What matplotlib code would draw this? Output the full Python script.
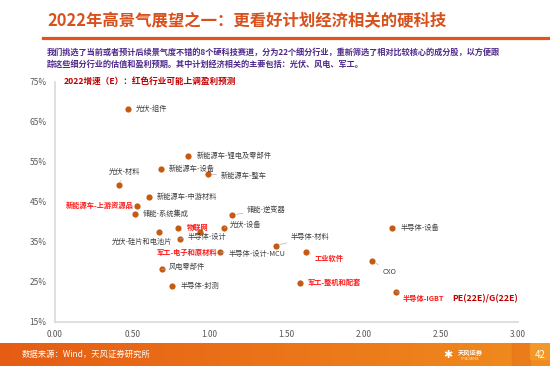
import matplotlib
matplotlib.use("Agg")
import matplotlib.pyplot as plt
import numpy as np
from matplotlib.patches import Rectangle

plt.rcParams['font.family'] = ['Noto Sans CJK SC', 'DejaVu Sans']

# ---------------- data ----------------
names = ["光伏-组件", "新能源车-锂电及零部件", "新能源车-设备", "新能源车-整车", "光伏-材料",
         "新能源车-中游材料", "新能源车-上游资源品", "储能-系统集成", "储能-逆变器", "物联网",
         "光伏-设备", "光伏-硅片和电池片", "半导体-设计", "军工-电子和原材料", "半导体-设计-MCU",
         "半导体-材料", "工业软件", "CXO", "半导体-设备", "军工-整机和配套",
         "半导体-IGBT", "风电零部件", "半导体-封测"]
pe_g = [0.47, 0.865, 0.686, 0.989, 0.413,
        0.609, 0.531, 0.52, 1.148, 0.80,
        1.095, 0.677, 0.809, 0.942, 1.071,
        1.43, 1.624, 2.056, 2.185, 1.59,
        2.21, 0.692, 0.761]
growth = [68.1, 56.4, 53.1, 51.9, 49.1,
          46.1, 44.0, 41.85, 41.7, 38.5,
          38.5, 37.5, 35.7, 37.35, 32.4,
          34.0, 32.35, 30.2, 38.4, 24.8,
          22.5, 28.1, 23.85]
highlight = [False, False, False, False, False,
             False, True, False, False, True,
             False, False, False, True, False,
             False, True, False, False, True,
             True, False, False]
x_ticks = [0.0, 0.5, 1.0, 1.5, 2.0, 2.5, 3.0]
y_ticks = [15, 25, 35, 45, 55, 65, 75]

# label placement (offset in pixels, alignment, leader line)
label_style = [(8, 0, 'left', False), (8, 0, 'left', False), (8, 0, 'left', False), (13, -2, 'left', True),
               (6, 13, 'center', True), (8, 0, 'left', False), (-3, 0, 'right', False), (8, 0, 'left', False),
               (15, 5, 'left', True), (8, 0, 'left', False), (6, 3, 'left', True), (-17, -10, 'center', False),
               (8, 2, 'left', True), (17, -20, 'right', False), (8, -2, 'left', True), (15, 9, 'left', True),
               (9, -6, 'left', True), (10, -11, 'left', True), (8, 0, 'left', False), (7, 0, 'left', False),
               (7, -7, 'left', True), (7, 2, 'left', True), (8, 0, 'left', False)]

W, H = 550, 366
fig = plt.figure(figsize=(W / 100, H / 100), dpi=100)
fig.patch.set_facecolor('white')

def fx(px):
    return px / W

def fy(py):
    return 1 - py / H

# title
fig.text(fx(47), fy(21), "2022年高景气展望之一：更看好计划经济相关的硬科技", fontsize=11.8,
         fontweight='bold', color='#D8501C', ha='left', va='center')
fig.add_artist(plt.Line2D([fx(43), fx(550)], [fy(38), fy(38)], color='#E0561A', lw=2.3,
                          transform=fig.transFigure))
sub_color = '#4F2A8A'
fig.text(fx(47), fy(52), "我们挑选了当前或者预计后续景气度不错的8个硬科技赛道，分为22个细分行业，重新筛选了相对比较核心的成分股，以方便跟",
         fontsize=5.9, fontweight='bold', color=sub_color, ha='left', va='center')
fig.text(fx(47), fy(64), "踪这些细分行业的估值和盈利预期。其中计划经济相关的主要包括：光伏、风电、军工。",
         fontsize=5.9, fontweight='bold', color=sub_color, ha='left', va='center')

# main axes
ax = fig.add_axes([fx(55), fy(321.7), fx(518) - fx(55), fy(81.7) - fy(321.7)])
ax.set_xlim(0, 3)
ax.set_ylim(15, 75)
ax.set_xticks(x_ticks)
ax.set_xticklabels([f"{v:.2f}" for v in x_ticks])
ax.set_yticks(y_ticks)
ax.set_yticklabels([f"{v}%" for v in y_ticks])
for s in ['top', 'right']:
    ax.spines[s].set_visible(False)
for s in ['left', 'bottom']:
    ax.spines[s].set_color('#D9D9D9')
    ax.spines[s].set_linewidth(1.2)
ax.tick_params(axis='both', length=0, labelsize=6, colors='#595959')
ax.tick_params(axis='x', pad=6)
ax.tick_params(axis='y', pad=6)
ax.patch.set_alpha(0)

ax.scatter(pe_g, growth, s=20, color='#C55A11', zorder=3, linewidths=0)

for name, x, y, hl, (dx, dy, ha, lead) in zip(names, pe_g, growth, highlight, label_style):
    kw = dict(xy=(x, y), xytext=(dx, dy), textcoords='offset pixels', ha=ha, va='center',
              fontsize=5.2, color='#FF1A1A' if hl else '#404040',
              fontweight='bold' if hl else 'normal', zorder=4)
    if lead:
        kw['arrowprops'] = dict(arrowstyle='-', color='#B0B0B0', lw=0.5, shrinkA=1, shrinkB=3)
    ax.annotate(name, **kw)

ax.text(0.018, 1.0, "2022增速（E）：红色行业可能上调盈利预测", transform=ax.transAxes,
        fontsize=6.2, fontweight='bold', color='#C00000', ha='left', va='center')
ax.text(1.0, 0.095, "PE(22E)/G(22E)", transform=ax.transAxes, fontsize=6.3,
        fontweight='bold', color='#C00000', ha='right', va='center')

# footer band
fax = fig.add_axes([0, 0, 1, fy(342.5)])
grad = np.linspace(0, 1, 256).reshape(1, -1)
c0 = np.array([0xE6, 0x5C, 0x14]) / 255
c1 = np.array([0xF0, 0x8C, 0x1E]) / 255
img = (c0[None, None, :] * (1 - grad[..., None]) + c1[None, None, :] * grad[..., None])
fax.imshow(img, aspect='auto', extent=[0, 1, 0, 1])
fax.add_patch(Rectangle((512 / W, 0), 18 / W, 1, color='#E8771A', alpha=0.7))
fax.add_patch(Rectangle((530 / W, 0.3), 20 / W, 0.7, color='#F5A030', alpha=0.6))
fax.set_xlim(0, 1)
fax.set_ylim(0, 1)
fax.axis('off')
fig.text(fx(22), fy(354.5), "数据来源：Wind，天风证券研究所", fontsize=6, color='white', ha='left', va='center')
fig.text(fx(458), fy(353), "天风证券", fontsize=4.5, color='white', ha='left', va='center', fontweight='bold')
fig.text(fx(470), fy(359), "TF SECURITIES", fontsize=1.8, color='white', ha='center', va='center')
fig.text(fx(443), fy(355), "✱", fontsize=8, color='white', ha='left', va='center',
         family=['DejaVu Sans'])
fig.text(fx(540), fy(354.5), "42", fontsize=7, color='white', ha='center', va='center')

fig.savefig("out.png", dpi=100)
